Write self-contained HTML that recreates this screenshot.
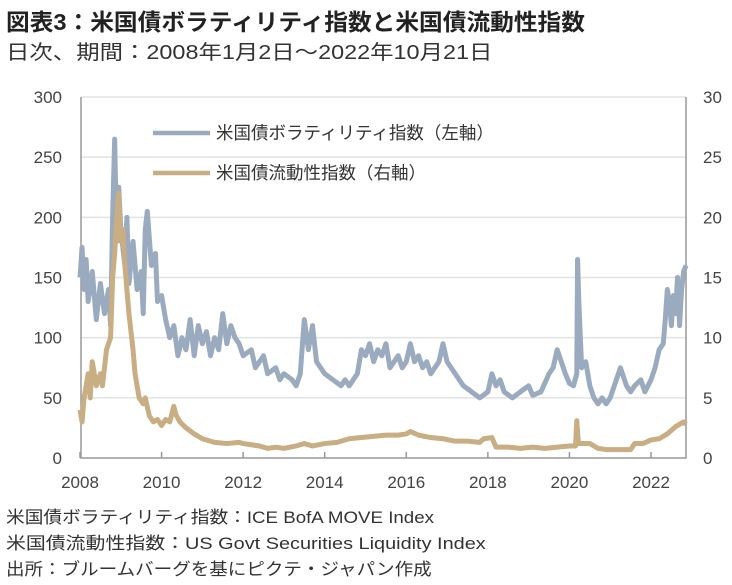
<!DOCTYPE html>
<html><head><meta charset="utf-8"><style>
body{margin:0;background:#fff;width:732px;height:585px;overflow:hidden;font-family:"Liberation Sans","Noto Sans CJK JP",sans-serif;color:#333}
.t{position:absolute;white-space:nowrap;transform-origin:0 0}
</style></head><body>
<div class="t" style="left:6px;top:3px;font-size:23px;font-weight:bold;color:#222;transform:scaleX(1.03)">図表3：米国債ボラティリティ指数と米国債流動性指数</div>
<div class="t" style="left:6px;top:36px;font-size:20px;color:#333;transform:scaleX(1.17)">日次、期間：2008年1月2日～2022年10月21日</div>
<svg id="chart" width="732" height="585" style="position:absolute;left:0;top:0"></svg>
<div class="t" style="left:6px;top:503px;font-size:17px;transform:scaleX(1.1)">米国債ボラティリティ指数：ICE BofA MOVE Index</div>
<div class="t" style="left:6px;top:529px;font-size:17px;transform:scaleX(1.17)">米国債流動性指数：US Govt Securities Liquidity Index</div>
<div class="t" style="left:6px;top:555px;font-size:17px;transform:scaleX(1.09)">出所：ブルームバーグを基にピクテ・ジャパン作成</div>
<script>
const moveT=[2008.0,2008.05,2008.1,2008.15,2008.2,2008.3,2008.4,2008.5,2008.6,2008.7,2008.75,2008.8,2008.85,2008.9,2008.95,2009.0,2009.1,2009.15,2009.2,2009.3,2009.4,2009.5,2009.55,2009.6,2009.65,2009.75,2009.85,2009.9,2010.0,2010.1,2010.2,2010.3,2010.4,2010.5,2010.6,2010.7,2010.8,2010.9,2011.0,2011.1,2011.2,2011.3,2011.4,2011.5,2011.6,2011.7,2011.8,2011.9,2012.0,2012.2,2012.3,2012.5,2012.6,2012.8,2012.9,2013.0,2013.2,2013.3,2013.4,2013.5,2013.6,2013.7,2013.8,2013.9,2014.0,2014.2,2014.4,2014.5,2014.6,2014.8,2014.9,2015.0,2015.1,2015.2,2015.3,2015.4,2015.5,2015.6,2015.8,2015.9,2016.0,2016.1,2016.2,2016.3,2016.4,2016.5,2016.6,2016.8,2016.9,2017.0,2017.2,2017.4,2017.6,2017.8,2018.0,2018.1,2018.2,2018.3,2018.4,2018.6,2018.8,2019.0,2019.1,2019.3,2019.5,2019.6,2019.7,2019.8,2019.9,2020.0,2020.1,2020.18,2020.2,2020.23,2020.3,2020.4,2020.5,2020.6,2020.7,2020.8,2020.9,2021.0,2021.15,2021.25,2021.4,2021.5,2021.6,2021.75,2021.85,2022.0,2022.1,2022.2,2022.3,2022.35,2022.4,2022.45,2022.5,2022.55,2022.6,2022.65,2022.7,2022.75,2022.8,2022.86];
const moveV=[150,175,140,165,130,155,115,145,120,140,110,200,265,180,225,190,160,200,145,180,140,155,120,190,205,160,170,130,135,115,100,110,85,100,90,115,85,110,95,105,85,100,90,120,95,110,100,95,85,90,75,85,70,75,65,70,65,60,70,115,90,110,80,75,70,65,60,65,60,70,90,85,95,80,90,85,95,75,85,75,80,95,80,85,75,80,70,80,95,80,70,60,55,50,55,70,60,65,55,50,55,60,52,55,70,75,90,80,70,62,60,70,165,130,75,80,60,50,45,50,45,50,65,75,60,55,60,65,55,65,75,90,95,115,140,130,110,135,120,150,110,140,155,160];
const liqT=[2008.0,2008.05,2008.1,2008.2,2008.25,2008.3,2008.4,2008.5,2008.55,2008.65,2008.75,2008.8,2008.85,2008.9,2008.95,2009.0,2009.05,2009.1,2009.2,2009.3,2009.35,2009.45,2009.55,2009.6,2009.7,2009.8,2009.9,2010.0,2010.1,2010.2,2010.3,2010.35,2010.45,2010.6,2010.8,2011.0,2011.3,2011.6,2011.9,2012.0,2012.2,2012.4,2012.6,2012.8,2013.0,2013.3,2013.5,2013.7,2014.0,2014.3,2014.6,2014.9,2015.2,2015.5,2015.8,2016.0,2016.1,2016.3,2016.6,2016.9,2017.2,2017.5,2017.8,2017.9,2018.1,2018.2,2018.5,2018.8,2019.1,2019.4,2019.7,2020.0,2020.15,2020.18,2020.22,2020.5,2020.7,2020.9,2021.2,2021.5,2021.6,2021.8,2022.0,2022.2,2022.4,2022.6,2022.8,2022.86];
const liqV=[4,3,5,7,5,8,6,7,6,9,10,15,17,20,22,18,19,16,12,9,7,5,4.5,5,3.5,3,3.2,2.7,3.2,3,4.3,3.6,3,2.5,2,1.6,1.3,1.2,1.3,1.2,1.1,1.0,0.8,0.9,0.8,1.0,1.2,1.0,1.2,1.3,1.6,1.7,1.8,1.9,1.9,2.0,2.2,1.9,1.7,1.6,1.4,1.4,1.3,1.6,1.7,0.9,0.9,0.8,0.9,0.8,0.9,1.0,1.0,3.1,1.2,1.2,0.8,0.7,0.7,0.7,1.2,1.2,1.5,1.6,2.0,2.6,3.0,2.8];
const leftTicks=[0,50,100,150,200,250,300];
const rightTicks=[0,5,10,15,20,25,30];
const xTicks=[2008,2010,2012,2014,2016,2018,2020,2022];
const L=81,R=686,T=97,B=458;
const x=t=>80+(t-2008)*(651-80)/14;
const yL=v=>B-(v/300)*(B-T);
const yR=v=>B-(v/30)*(B-T);
const svg=document.getElementById('chart');
const NS='http://www.w3.org/2000/svg';
function mk(tag,at){const e=document.createElementNS(NS,tag);for(const k in at)e.setAttribute(k,at[k]);svg.appendChild(e);return e;}
leftTicks.forEach(v=>{
  if(v>0){const g=mk('line',{x1:L,x2:R,y1:yL(v),y2:yL(v),stroke:'#e3e3e3','stroke-width':1.5});
  
  }
  const t=mk('text',{x:62,y:yL(v)+6,'text-anchor':'end','font-size':17,fill:'#444'});t.textContent=v;
  
  
});
rightTicks.forEach(v=>{
  const t=mk('text',{x:703,y:yR(v)+6,'font-size':17,fill:'#444'});t.textContent=v;
  
  
});
const fr=mk('path',{d:`M${L},${T}V${B}H${R}V${T}`,fill:'none',stroke:'#999','stroke-width':1.5});


xTicks.forEach(v=>{
  const tk=mk('line',{x1:x(v),x2:x(v),y1:B,y2:B-6,stroke:'#999','stroke-width':1.5});
  
  
  const t=mk('text',{x:x(v),y:488,'text-anchor':'middle','font-size':17,fill:'#444'});t.textContent=v;
  
  
});
const p1=mk('polyline',{points:moveT.map((t,i)=>x(t)+','+yL(moveV[i])).join(' '),fill:'none',stroke:'#9aabc0','stroke-width':5,'stroke-linejoin':'round'});


const p2=mk('polyline',{points:liqT.map((t,i)=>x(t)+','+yR(liqV[i])).join(' '),fill:'none',stroke:'#c9ad83','stroke-width':5,'stroke-linejoin':'round'});


[[133,'#9aabc0','米国債ボラティリティ指数（左軸）'],[173,'#c9ad83','米国債流動性指数（右軸）']].forEach(([yy,c,s])=>{
  const l=mk('line',{x1:153,x2:210,y1:yy,y2:yy,stroke:c,'stroke-width':4.5});
  
  
  const t=mk('text',{x:216,y:yy+6,'font-size':17.5,fill:'#333'});t.textContent=s;
  
  
});
</script>
</body></html>
